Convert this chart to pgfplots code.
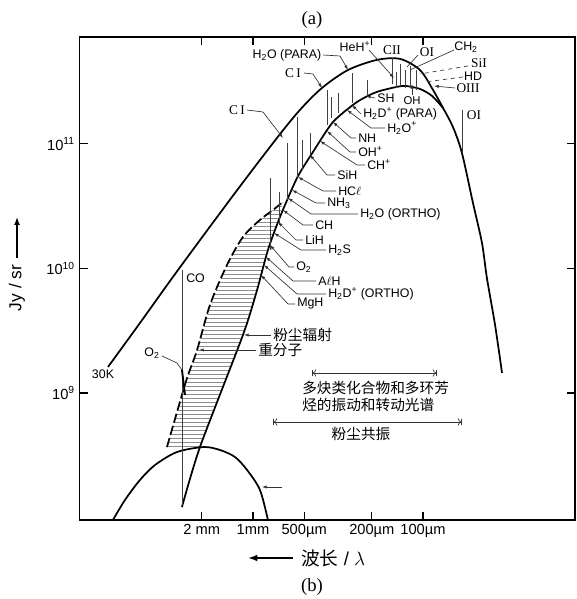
\documentclass[border=0pt]{standalone}
\usepackage{fontspec}
\usepackage{pgfplots}
\pgfplotsset{compat=1.18}
\usetikzlibrary{patterns,arrows.meta}
\setmainfont{Liberation Sans}
\newfontfamily\serif{Liberation Serif}
\newfontfamily\cjk{Noto Sans CJK SC}
\begin{document}
\begin{tikzpicture}[
  spec/.style={black!75, line width=0.6pt},
  lead/.style={black!80, line width=0.5pt},
  tip/.style={-{Latex[length=3.5pt,width=2.4pt]}},
  lab/.style={font=\fontsize{9.3}{10}\selectfont, inner sep=0pt},
  slab/.style={font=\serif\fontsize{10}{11}\selectfont, inner sep=0pt},
  cjkl/.style={font=\cjk\fontsize{11}{12}\selectfont, inner sep=0pt}
]
\path[use as bounding box] (0,0) rectangle (432pt,449.25pt);
\begin{axis}[
  at={(59.625pt,59.25pt)}, anchor=south west,
  scale only axis, width=371.6pt, height=362.25pt,
  xmin=-4.0206, xmax=-1.1059, ymin=7.980, ymax=11.859,
  axis line style={line width=1pt},
  tick align=inside, major tick length=6pt,
  tick style={line width=0.8pt, black},
  xtick={-3.301,-3,-2.699,-2.301,-2},
  xticklabels={2 mm,1mm,500µm,200µm,100µm},
  ytick={9,10,11},
  yticklabels={10\textsuperscript{9},10\textsuperscript{10},10\textsuperscript{11}},
  ticklabel style={font=\fontsize{11}{12}\selectfont},
  minor tick num=0,
]
% hatched region (dust emission band / heavy molecules)
\addplot[draw=none, pattern=horizontal lines, pattern color=black!45] coordinates {
 (-3.506,8.566) (-3.447,8.847) (-3.388,9.120) (-3.329,9.345) (-3.253,9.707)
 (-3.153,10.028) (-3.059,10.253) (-2.959,10.390) (-2.882,10.470) (-2.824,10.534)
 (-2.841,10.414) (-2.912,10.149) (-2.976,9.827) (-3.059,9.466) (-3.312,8.566)};
% heavy molecules (dashed)
\addplot[no markers, smooth, tension=0.5, line width=1.3pt, dash pattern=on 7pt off 2.5pt] coordinates {
 (-3.506,8.566) (-3.447,8.847) (-3.388,9.120) (-3.329,9.345) (-3.253,9.707)
 (-3.153,10.028) (-3.059,10.253) (-2.959,10.390) (-2.882,10.470) (-2.824,10.534)};
% 30K curve
\addplot[no markers, smooth, tension=0.5, line width=1.3pt] coordinates {
 (-3.853,9.209) (-3.665,9.562) (-3.441,9.988) (-3.106,10.606) (-2.859,11.048)
 (-2.724,11.273) (-2.594,11.450) (-2.441,11.594) (-2.271,11.675) (-2.135,11.683)
 (-2.018,11.594) (-1.941,11.434) (-1.882,11.289) (-1.824,11.137) (-1.771,10.928)
 (-1.706,10.526) (-1.653,10.205) (-1.624,9.924) (-1.576,9.546) (-1.535,9.161)};
% dust emission (inner curve)
\addplot[no markers, smooth, tension=0.4, line width=1.3pt] coordinates {
 (-3.418,8.084) (-3.312,8.566) (-3.059,9.466) (-2.976,9.827) (-2.912,10.149)
 (-2.841,10.414) (-2.741,10.727) (-2.647,10.936) (-2.529,11.177) (-2.388,11.337)
 (-2.271,11.418) (-2.118,11.466) (-2.018,11.442) (-1.947,11.386) (-1.882,11.289)};
% cosmic background hill
\addplot[no markers, smooth, tension=0.5, line width=1.3pt] coordinates {
 (-3.824,7.980) (-3.753,8.141) (-3.665,8.301) (-3.576,8.422) (-3.447,8.526)
 (-3.290,8.566) (-3.194,8.542) (-3.106,8.486) (-3.035,8.382) (-2.959,8.221) (-2.912,7.980)};
% spectral lines
\addplot[spec] coordinates {(-3.418,9.988) (-3.418,8.100)};
\addplot[spec] coordinates {(-2.900,10.727) (-2.900,10.149)};
\addplot[spec] coordinates {(-2.847,10.614) (-2.847,10.349)};
\addplot[spec] coordinates {(-2.800,11.008) (-2.800,10.550)};
\addplot[spec] coordinates {(-2.741,11.217) (-2.741,10.727)};
\addplot[spec] coordinates {(-2.712,11.032) (-2.712,10.791)};
\addplot[spec] coordinates {(-2.665,11.088) (-2.665,10.912)};
\addplot[spec] coordinates {(-2.565,11.434) (-2.565,11.153)};
\addplot[spec] coordinates {(-2.541,11.378) (-2.541,11.209)};
\addplot[spec] coordinates {(-2.500,11.410) (-2.500,11.249)};
\addplot[spec] coordinates {(-2.418,11.570) (-2.418,11.329)};
\addplot[spec] coordinates {(-2.329,11.514) (-2.329,11.386)};
\addplot[spec, line width=0.8pt] coordinates {(-2.182,11.691) (-2.182,11.482)};
\addplot[spec] coordinates {(-2.159,11.578) (-2.159,11.450)};
\addplot[spec] coordinates {(-2.135,11.643) (-2.135,11.466)};
\addplot[spec] coordinates {(-2.106,11.594) (-2.106,11.450)};
\addplot[spec] coordinates {(-2.076,11.627) (-2.076,11.450)};
\addplot[spec] coordinates {(-2.041,11.594) (-2.041,11.434)};
\addplot[spec] coordinates {(-1.771,11.273) (-1.771,10.928)};
\end{axis}

\begin{scope}[shift={(0pt,449.25pt)}, x=0.75pt, y=-0.75pt]
% captions
\node[font=\serif\fontsize{14}{16}\selectfont] at (312,20) {(a)};
\node[font=\serif\fontsize{14}{16}\selectfont] at (312,587) {(b)};
% axis labels
\node[rotate=90, font=\fontsize{13}{14}\selectfont, inner sep=0pt] at (17,288) {Jy / sr};
\draw[line width=1.1pt, -{Latex[length=6pt,width=4.5pt]}] (17,258) -- (17,217);
\draw[line width=1.2pt, -{Latex[length=7pt,width=5pt]}] (293,558) -- (248,558);
\node[anchor=west, inner sep=0pt, font=\fontsize{14}{16}\selectfont] at (301,558) {{\cjk 波长} / $\lambda$};
% small labels
\node[lab] at (103,374) {30K};
\node[lab, anchor=west] at (186,278) {CO};
\node[lab] at (152,353) {O\textsubscript{2}};
\draw[lead] (162,356) -- (177,363) -- (182,370);
\draw[line width=1.4pt] (182,370) -- (185,395);
% dust / heavy molecules
\node[cjkl, anchor=west] at (273,335) {粉尘辐射};
\draw[lead, tip] (271,335) -- (244,335);
\node[cjkl, anchor=west] at (258,350) {重分子};
\draw[lead, tip] (256,350) -- (199,350);
\draw[lead, tip] (282,487) -- (262,487);
% ranges
\draw[lead, |<->|] (312,373) -- (437,373);
\node[cjkl, anchor=west] at (302,388) {多炔类化合物和多环芳};
\node[cjkl, anchor=west] at (302,405) {烃的振动和转动光谱};
\draw[lead, |<->|] (273,422) -- (462,422);
\node[cjkl] at (361,434) {粉尘共振};
% molecule labels on inner curve
\node[lab, anchor=west] at (297,304) {MgH};
\draw[lead, tip] (295,304) -- (288,304) -- (261,275);
\node[lab, anchor=west] at (328,294) {H\textsubscript{2}D\textsuperscript{+} (ORTHO)};
\draw[lead, tip] (326,294) -- (297,294) -- (264,265);
\node[lab, anchor=west] at (318,281) {A$\ell$H};
\draw[lead, tip] (316,281) -- (293,281) -- (266,257);
\node[lab, anchor=west] at (296,267) {O\textsubscript{2}};
\draw[lead, tip] (294,267) -- (289,267) -- (270,245);
\node[lab, anchor=west] at (328,250) {H\textsubscript{2}S};
\draw[lead, tip] (326,250) -- (301,250) -- (274,233);
\node[lab, anchor=west] at (305,240) {LiH};
\draw[lead, tip] (303,240) -- (296,240) -- (278,222);
\node[lab, anchor=west] at (315,225) {CH};
\draw[lead, tip] (313,225) -- (303,225) -- (283,210);
\node[lab, anchor=west] at (360,214) {H\textsubscript{2}O (ORTHO)};
\draw[lead, tip] (358,214) -- (311,214) -- (288,198);
\node[lab, anchor=west] at (327,203) {NH\textsubscript{3}};
\draw[lead, tip] (325,203) -- (316,203) -- (292,190);
\node[lab, anchor=west] at (338,191) {HC$\ell$};
\draw[lead, tip] (336,191) -- (323,191) -- (298,177);
\node[lab, anchor=west] at (337,175) {SiH};
\draw[lead, tip] (335,175) -- (327,175) -- (310,155);
\node[lab, anchor=west] at (367,165) {CH\textsuperscript{+}};
\draw[lead, tip] (365,165) -- (357,165) -- (320,141);
\node[lab, anchor=west] at (358,152) {OH\textsuperscript{+}};
\draw[lead, tip] (356,152) -- (350,152) -- (327,131);
\node[lab, anchor=west] at (358,138) {NH};
\draw[lead, tip] (356,138) -- (351,138) -- (333,122);
\node[lab, anchor=west] at (387,128) {H\textsubscript{2}O\textsuperscript{+}};
\draw[lead, tip] (385,128) -- (371,128) -- (347,110);
\node[lab, anchor=west] at (363,114) {H\textsubscript{2}D\textsuperscript{+} (PARA)};
\draw[lead, tip] (361,114) -- (352,105);
\node[lab, anchor=west] at (377,98) {SH};
\draw[lead, tip] (375,98) -- (366,96);
\node[lab, font=\fontsize{8.5}{9}\selectfont] at (412,101) {OH};
\draw[lead, tip] (412,95) -- (412,84);
% upper labels
\node[slab] at (237,110) {C\,I};
\draw[lead, tip] (247,110) -- (263,112) -- (283,138);
\node[slab] at (293,73) {C\,I};
\draw[lead, tip] (304,73) -- (313,74) -- (322,88);
\node[lab] at (287,55) {H\textsubscript{2}O (PARA)};
\draw[lead, tip] (323,55) -- (340,56) -- (348,70);
\node[lab] at (355,47) {HeH\textsuperscript{+}};
\draw[lead, tip] (369,50) -- (394,78);
\node[slab] at (392,50) {CII};
\node[slab] at (427,52) {OI};
\draw[lead] (418,55) -- (407,67);
\node[lab] at (466,47) {CH\textsubscript{2}};
\draw[lead] (454,50) -- (410,70);
\node[slab] at (479,63) {SiI};
\draw[lead, dashed] (468,66) -- (420,74);
\node[lab] at (473,76) {HD};
\draw[lead, dashed] (463,77) -- (425,82);
\node[slab] at (468,88) {OIII};
\draw[lead, tip] (455,88) -- (434,86);
\node[slab] at (474,115) {OI};
\end{scope}
\end{tikzpicture}
\end{document}
